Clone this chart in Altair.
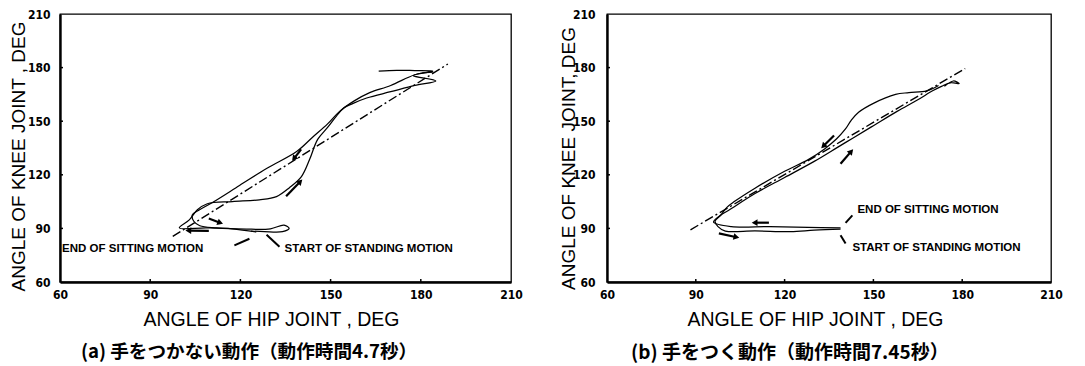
import math
import altair as alt
import pandas as pd

# ---------------- data: panel (a) ----------------
A_DASH_X = [97.5, 189.0]
A_DASH_Y = [85.5, 182.0]

A_STAND_X = [125.3, 117.3, 108.7, 99.7, 103.0, 105.7, 109.0, 117.3, 126.3, 132.0, 136.3, 140.3, 143.0,
             145.7, 149.0, 152.0, 154.5, 157.5, 162.0, 170.0, 178.0, 185.0, 177.5, 180.5, 184.0]
A_STAND_Y = [88.0, 89.8, 90.3, 90.3, 94.8, 100.4, 103.8, 105.0, 106.0, 107.8, 112.8, 119.0, 128.5,
             139.8, 146.5, 153.0, 157.5, 160.0, 163.0, 166.5, 170.0, 172.5, 175.5, 177.0, 177.5]

A_SIT_X = [166.0, 172.0, 178.0, 184.0, 178.0, 170.0, 163.0, 158.0, 153.0, 149.0, 144.0, 138.7, 128.7,
           119.7, 110.7, 106.0, 104.0, 104.5, 106.5, 112.0, 122.0, 130.0, 134.5, 136.2, 134.0, 128.0, 123.5]
A_SIT_Y = [178.0, 178.5, 178.3, 178.0, 176.0, 170.0, 166.0, 161.5, 155.5, 148.5, 141.0, 133.0, 123.5,
           114.0, 104.5, 100.0, 97.5, 94.0, 91.5, 90.3, 89.6, 89.8, 91.8, 90.0, 88.2, 88.2, 88.5]

# arrows: tail -> head
A_ARROW_X0 = [109.5, 109.5, 135.2, 140.2]
A_ARROW_Y0 = [95.5, 88.6, 108.0, 134.2]
A_ARROW_X1 = [113.0, 103.0, 139.7, 138.0]
A_ARROW_Y1 = [93.3, 88.8, 115.8, 129.5]

# leader strokes to the labels
A_LEAD_X0 = [118.0, 128.7]
A_LEAD_Y0 = [80.5, 86.4]
A_LEAD_X1 = [123.0, 133.0]
A_LEAD_Y1 = [84.2, 79.7]

A_LABELS = ["END OF SITTING MOTION", "START OF STANDING MOTION"]
A_LABEL_X = [60.7, 134.7]
A_LABEL_Y = [78.5, 78.5]

# ---------------- data: panel (b) ----------------
B_DASH_X = [88.2, 181.0]
B_DASH_Y = [89.2, 179.5]

B_STAND_X = [138.9, 128.0, 115.0, 102.0, 96.0, 98.0, 101.0, 110.0, 120.0, 130.0, 138.0, 143.0, 150.0,
             158.0, 165.0, 170.0, 173.0, 176.0, 179.0, 177.0, 174.0]
B_STAND_Y = [90.3, 90.6, 91.0, 91.0, 93.5, 97.0, 100.0, 109.5, 118.5, 127.5, 135.5, 140.5, 147.5,
             155.5, 162.0, 167.0, 169.5, 171.5, 171.0, 172.5, 169.5]

B_SIT_X = [172.0, 168.0, 162.0, 157.5, 150.0, 145.0, 142.5, 140.5, 137.5, 133.5, 128.0, 120.0, 110.0,
           103.0, 100.5, 98.5, 96.5, 97.5, 100.0, 110.0, 122.0, 130.0, 138.9]
B_SIT_Y = [170.0, 167.0, 166.0, 165.0, 160.0, 155.0, 150.5, 145.5, 140.0, 134.5, 128.5, 122.0, 112.5,
           105.0, 101.8, 97.5, 94.0, 91.0, 88.5, 88.6, 88.2, 89.0, 89.6]

B_ARROW_X0 = [136.7, 138.9, 114.7, 97.8]
B_ARROW_Y0 = [142.0, 126.2, 93.2, 87.2]
B_ARROW_X1 = [133.3, 142.3, 110.2, 103.4]
B_ARROW_Y1 = [136.4, 132.7, 93.2, 85.2]

B_LEAD_X0 = [140.6, 138.9]
B_LEAD_Y0 = [93.1, 86.2]
B_LEAD_X1 = [142.9, 140.6]
B_LEAD_Y1 = [97.3, 81.5]

B_LABELS = ["END OF SITTING MOTION", "START OF STANDING MOTION"]
B_LABEL_X = [144.6, 142.9]
B_LABEL_Y = [100.4, 79.2]

TICKS = [60, 90, 120, 150, 180, 210]
INNER_TICKS = [90, 120, 150, 180]

X_TITLE = "ANGLE OF HIP JOINT , DEG"
A_Y_TITLE = "ANGLE OF KNEE JOINT , DEG"
B_Y_TITLE = "ANGLE OF KNEE JOINT, DEG"
A_CAPTION = "(a) 手をつかない動作（動作時間4.7秒）"
B_CAPTION = "(b) 手をつく動作（動作時間7.45秒）"

NUM_FONT = "DejaVu Sans Condensed, Liberation Sans Narrow, Liberation Sans, sans-serif"
TITLE_FONT = "Liberation Sans, DejaVu Sans, sans-serif"
CJK_FONT = "Noto Sans CJK JP"


def path_df(pairs):
    rows = []
    for name, xs, ys in pairs:
        for i, (x, y) in enumerate(zip(xs, ys)):
            rows.append({"path": name, "i": i, "x": x, "y": y})
    return pd.DataFrame(rows)


def seg_df(x0, y0, x1, y1, prefix):
    rows = []
    for k in range(len(x0)):
        rows.append({"path": f"{prefix}{k}", "i": 0, "x": x0[k], "y": y0[k]})
        rows.append({"path": f"{prefix}{k}", "i": 1, "x": x1[k], "y": y1[k]})
    return pd.DataFrame(rows)


def heads_df(x0, y0, x1, y1, sx, sy):
    rows = []
    for k in range(len(x0)):
        dx = (x1[k] - x0[k]) * sx
        dy = -(y1[k] - y0[k]) * sy
        ang = math.degrees(math.atan2(dx, -dy)) % 360
        rows.append({"x": x1[k], "y": y1[k], "ang": ang})
    return pd.DataFrame(rows)


def panel(W, H, dash_x, dash_y, stand_x, stand_y, sit_x, sit_y,
          ax0, ay0, ax1, ay1, lx0, ly0, lx1, ly1, labels, lab_x, lab_y,
          y_title, caption, ytitle_x, ytitle_y, xtitle_x, ylab_pad, cap_x, cap_y, cap_size):
    xs = alt.Scale(domain=[60, 210], nice=False, zero=False)
    ys = alt.Scale(domain=[60, 210], nice=False, zero=False)
    xax = alt.Axis(values=TICKS, ticks=False, grid=False, domainColor="black", domainWidth=2.4,
                   labelFont=NUM_FONT, labelFontSize=12, labelFontWeight="bold", labelColor="black",
                   labelPadding=7, labelFlush=False, title=X_TITLE, titleFont=TITLE_FONT, titleFontSize=19.5,
                   titleFontWeight="normal", titleColor="black", titleX=xtitle_x, titleY=43,
                   titleAlign="center", titleBaseline="alphabetic", labelOverlap=False)
    yax = alt.Axis(values=TICKS, ticks=False, grid=False, domainColor="black", domainWidth=2.4,
                   labelFont=NUM_FONT, labelFontSize=12, labelFontWeight="bold", labelColor="black",
                   labelPadding=ylab_pad, labelFlush=False, title=y_title, titleFont=TITLE_FONT,
                   titleFontSize=19, titleFontWeight="normal", titleColor="black",
                   titleX=ytitle_x, titleY=ytitle_y, titleAngle=270, titleAlign="center",
                   titleBaseline="alphabetic", labelOverlap=False)

    X = alt.X("x:Q", scale=xs, axis=xax)
    Y = alt.Y("y:Q", scale=ys, axis=yax)

    dash = alt.Chart(path_df([("dash", dash_x, dash_y)])).mark_line(
        color="black", strokeWidth=1.4, strokeDash=[9, 3, 2, 3]).encode(
        x=X, y=Y, detail="path:N", order="i:Q")

    curves = alt.Chart(path_df([("stand", stand_x, stand_y), ("sit", sit_x, sit_y)])).mark_line(
        color="black", strokeWidth=1.25, interpolate="catmull-rom").encode(
        x=X, y=Y, detail="path:N", order="i:Q")

    shafts = alt.Chart(seg_df(ax0, ay0, ax1, ay1, "ar")).mark_line(
        color="black", strokeWidth=2.2).encode(x=X, y=Y, detail="path:N", order="i:Q")

    sx = W / 150.0
    sy = H / 150.0
    heads = alt.Chart(heads_df(ax0, ay0, ax1, ay1, sx, sy)).mark_point(
        shape="triangle", filled=True, color="black", size=45, opacity=1).encode(
        x=X, y=Y, angle=alt.Angle("ang:Q", scale=None))

    leads = alt.Chart(seg_df(lx0, ly0, lx1, ly1, "ld")).mark_line(
        color="black", strokeWidth=2.0).encode(x=X, y=Y, detail="path:N", order="i:Q")

    lab = alt.Chart(pd.DataFrame({"x": lab_x, "y": lab_y, "t": labels})).mark_text(
        align="left", baseline="middle", font=TITLE_FONT, fontWeight="bold", fontSize=11.5,
        color="black").encode(x=X, y=Y, text="t:N")

    tick_rows = []
    for v in INNER_TICKS:
        tick_rows.append({"x": v, "x2": v, "y": 60, "y2": 60 + 3 / sy})
        tick_rows.append({"x": 60, "x2": 60 + 3 / sx, "y": v, "y2": v})
    ticks = alt.Chart(pd.DataFrame(tick_rows)).mark_rule(color="black", strokeWidth=1.5).encode(
        x=X, x2="x2:Q", y=Y, y2="y2:Q")

    cap = alt.Chart(pd.DataFrame({"t": [caption]})).mark_text(
        align="left", baseline="middle", font=CJK_FONT, fontWeight="bold", fontSize=cap_size,
        color="black").encode(x=alt.value(cap_x), y=alt.value(cap_y), text="t:N")

    return alt.layer(dash, curves, shafts, heads, leads, lab, ticks, cap).properties(
        width=W, height=H)


left = panel(451, 268, A_DASH_X, A_DASH_Y, A_STAND_X, A_STAND_Y, A_SIT_X, A_SIT_Y,
             A_ARROW_X0, A_ARROW_Y0, A_ARROW_X1, A_ARROW_Y1,
             A_LEAD_X0, A_LEAD_Y0, A_LEAD_X1, A_LEAD_Y1, A_LABELS, A_LABEL_X, A_LABEL_Y,
             A_Y_TITLE, A_CAPTION, -36, 142, 211, 10, 21, 338, 18.6)
right = panel(444, 268, B_DASH_X, B_DASH_Y, B_STAND_X, B_STAND_Y, B_SIT_X, B_SIT_Y,
              B_ARROW_X0, B_ARROW_Y0, B_ARROW_X1, B_ARROW_Y1,
              B_LEAD_X0, B_LEAD_Y0, B_LEAD_X1, B_LEAD_Y1, B_LABELS, B_LABEL_X, B_LABEL_Y,
              B_Y_TITLE, B_CAPTION, -33, 144, 208, 12, 24, 339, 19)

chart = alt.hconcat(left, right, spacing=96, bounds="flush").properties(
    padding={"left": 8, "top": 7, "right": 5, "bottom": 0}
).configure_view(stroke="black", strokeWidth=1.3)

chart.save("out.html", embed_options={"renderer": "svg", "actions": False})
